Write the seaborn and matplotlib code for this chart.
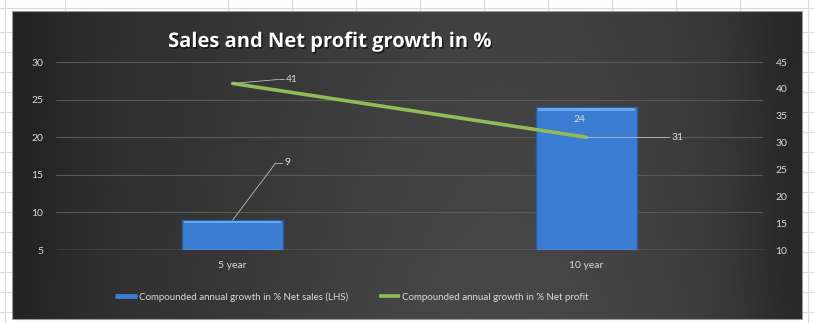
import numpy as np
import pandas as pd
import matplotlib
matplotlib.use("Agg")
import matplotlib.pyplot as plt
import matplotlib.patheffects as pe
from matplotlib.lines import Line2D
from matplotlib.patches import Rectangle
import seaborn as sns

# Chart data
periods = ["5 year", "10 year"]
net_sales_growth = [9, 24]      # left axis
net_profit_growth = [41, 31]    # right axis
left_ticks = [5, 10, 15, 20, 25, 30]
right_ticks = [10, 15, 20, 25, 30, 35, 40, 45]

sales_label = "Compounded annual growth in % Net sales (LHS)"
profit_label = "Compounded annual growth in % Net profit"
title = "Sales and Net profit growth in %"

sns.set_theme(style="white")
plt.rcParams["font.family"] = ["Lato", "DejaVu Sans"]

W, H = 814, 323
fig = plt.figure(figsize=(W / 100, H / 100), dpi=100)
fig.patch.set_facecolor("white")

# Spreadsheet backdrop and dark chart area (pixel coordinates)
bg = fig.add_axes([0, 0, 1, 1])
bg.set_xlim(0, W)
bg.set_ylim(H, 0)
bg.axis("off")
grid_col = "#d9d9d9"
for x in [5, 65, 228, 292, 356, 420, 484, 548, 612, 676, 740]:
    bg.plot([x, x], [0, 11], color=grid_col, lw=0.8)
bg.plot([0, W], [8, 8], color=grid_col, lw=0.8)
for y in range(32, H, 20):
    bg.plot([0, 12], [y, y], color=grid_col, lw=0.8)
    bg.plot([802, W], [y, y], color=grid_col, lw=0.8)
bg.plot([5, 5], [0, H], color=grid_col, lw=0.8)
bg.plot([808, 808], [0, H], color=grid_col, lw=0.8)

cx0, cx1, cy0, cy1 = 12, 802, 11, 319
gx = np.linspace(0, 1, 400)
gy = np.linspace(0, 1, 160)
GX, GY = np.meshgrid(gx, gy)
shade = 0.17 + 0.11 * np.exp(-((GX - 0.62) / 0.38) ** 2) * (0.75 + 0.25 * GY)
shade -= 0.04 * np.exp(-((GX - 0.0) / 0.08) ** 2)
shade -= 0.05 * np.exp(-((GX - 1.0) / 0.08) ** 2)
rgb = np.dstack([shade, shade, shade])
bg.imshow(rgb, extent=[cx0, cx1, cy1, cy0], aspect="auto", zorder=1,
          interpolation="bilinear")
bg.add_patch(Rectangle((cx0, cy0), cx1 - cx0, cy1 - cy0, fill=False,
                       ec="#9a9a9a", lw=0.8, zorder=2))

# Plot area
pl, pr, pt, pb = 56, 763, 62, 250
ax = fig.add_axes([pl / W, 1 - pb / H, (pr - pl) / W, (pb - pt) / H])
ax.set_facecolor("none")

df = pd.DataFrame({"period": periods, "sales": net_sales_growth})
sns.barplot(data=df, x="period", y="sales", order=periods, width=0.285,
            color="#3b7dd2", edgecolor="#2a5d9e", linewidth=1.0,
            saturation=1, ax=ax, zorder=3)
ax.set_ylim(5, 30)
ax.set_xlim(-0.5, 1.5)
ax.set_yticks(left_ticks)
ax.set_xlabel("")
ax.set_ylabel("")
for s in ax.spines.values():
    s.set_visible(False)
for v in left_ticks[1:]:
    ax.axhline(v, color="#595959", lw=0.8, zorder=1)
ax.axhline(5, color="#c8c8c8", lw=0.9, zorder=4)
ax.tick_params(axis="both", length=0, colors="#d9d9d9", labelsize=7.5)
ax.tick_params(axis="y", pad=9)
ax.tick_params(axis="x", pad=8)

# Bevel highlight on bars
for bar in ax.patches:
    x0, w, h = bar.get_x(), bar.get_width(), bar.get_height()
    y0 = bar.get_y()
    ax.add_patch(Rectangle((x0 + w * 0.02, y0 + h - 0.45), w * 0.96, 0.35,
                           color="#6aa6ea", lw=0, zorder=3.5))

# Net profit line on the right axis
ax2 = ax.twinx()
ax2.set_facecolor("none")
sns.lineplot(x=np.arange(len(periods)), y=net_profit_growth, ax=ax2,
             color="#92bb58", lw=2.6, zorder=5)
ax2.set_ylim(10, 45)
ax2.set_yticks(right_ticks)
ax2.set_xlim(-0.5, 1.5)
for s in ax2.spines.values():
    s.set_visible(False)
ax2.tick_params(axis="y", length=0, colors="#d9d9d9", labelsize=7.5, pad=9)
ax2.set_ylabel("")

lab_col = "#d9d9d9"
lead_col = "#bdbdbd"
# 41 label with leader
ax2.plot([0, 0.13], [net_profit_growth[0], 41.75], color=lead_col, lw=0.6, zorder=6)
ax2.plot([0.13, 0.145], [41.75, 41.75], color=lead_col, lw=0.6, zorder=6)
ax2.text(0.15, 41.75, f"{net_profit_growth[0]}", color=lab_col, fontsize=7.5,
         va="center", ha="left", zorder=6)
# 31 label with leader
ax2.plot([1, 1.235], [net_profit_growth[1], net_profit_growth[1]], color=lead_col,
         lw=0.6, zorder=6)
ax2.text(1.24, net_profit_growth[1], f"{net_profit_growth[1]}", color=lab_col,
         fontsize=7.5, va="center", ha="left", zorder=6)
# 9 label with leader
ax.plot([0, 0.122], [net_sales_growth[0], 16.6], color=lead_col, lw=0.6, zorder=6)
ax.plot([0.122, 0.14], [16.6, 16.6], color=lead_col, lw=0.6, zorder=6)
ax.text(0.145, 16.6, f"{net_sales_growth[0]}", color=lab_col, fontsize=7.5,
        va="center", ha="left", zorder=6)
# 24 label inside bar end
ax.text(0.98, 22.3, f"{net_sales_growth[1]}", color=lab_col, fontsize=7.5,
        va="center", ha="center", zorder=6)

# Title
fig.text(330 / W, 1 - 42 / H, title, color="white", fontsize=14.5,
         fontweight="bold", ha="center", va="center",
         family=["Open Sans", "DejaVu Sans"],
         path_effects=[pe.withSimplePatchShadow(offset=(1, -1.2),
                                                shadow_rgbFace="black",
                                                alpha=0.6)])

# Legend
handles = [Line2D([], [], color="#3b7dd2", lw=3.5, solid_capstyle="butt"),
           Line2D([], [], color="#92bb58", lw=2.6, solid_capstyle="butt")]
leg = fig.legend(handles, [sales_label, profit_label], loc="center",
                 bbox_to_anchor=(352 / W, 1 - 297 / H), ncol=2, frameon=False,
                 fontsize=7, handlelength=2.2, handletextpad=0.2,
                 columnspacing=3.2, labelcolor="#d9d9d9")

fig.savefig("out.png", dpi=100, facecolor="white")
